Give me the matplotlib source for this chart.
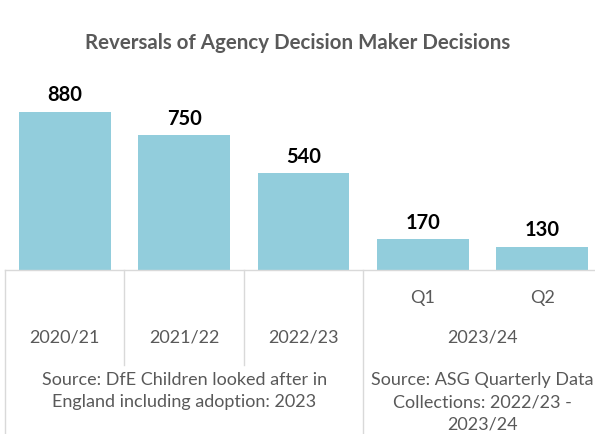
import matplotlib.pyplot as plt
import matplotlib.transforms as mtransforms

# data
categories = ["2020/21", "2021/22", "2022/23", "Q1", "Q2"]
values = [880, 750, 540, 170, 130]
quarter_year = "2023/24"
source_left = ["Source: DfE Children looked after in", "England including adoption: 2023"]
source_right = ["Source: ASG Quarterly Data", "Collections: 2022/23 -", "2023/24"]

plt.rcParams['font.family'] = ['Lato', 'DejaVu Sans']
gray = '#595959'
linec = '#d9d9d9'

fig = plt.figure(figsize=(5.95, 4.35), dpi=100)
W, H = 595, 435
ax = fig.add_axes([5 / W, 1 - 271 / H, 597 / W, 180 / H])

x = list(range(len(values)))
bars = ax.bar(x, values, width=0.77, color='#92cddc')
ax.set_xlim(-0.5, 4.5)
ax.set_ylim(0, 1000)
ax.axis('off')

for xi, v in zip(x, values):
    ax.text(xi, v + 40, str(v), ha='center', va='bottom',
            fontsize=14.5, fontweight='bold', color='black')

fig.text(0.5, 1 - 43 / H, "Reversals of Agency Decision Maker Decisions",
         ha='center', va='center', fontsize=14.8, fontweight='bold', color=gray)

tr = mtransforms.blended_transform_factory(ax.transData, fig.transFigure)
def fy(p):
    return 1 - p / H

# baseline and separators
ax.plot([-0.5, 4.6], [fy(271), fy(271)], transform=tr, color=linec, lw=1, clip_on=False)
for sx in [-0.5, 2.5]:
    ax.plot([sx, sx], [fy(271), 0], transform=tr, color=linec, lw=1, clip_on=False)
for sx in [0.5, 1.5]:
    ax.plot([sx, sx], [fy(271), fy(366)], transform=tr, color=linec, lw=1, clip_on=False)

fs = 13
# category labels
for xi, lab in zip(x, categories):
    yy = 298 if lab.startswith("Q") else 338
    ax.text(xi, fy(yy), lab, transform=tr, ha='center', va='center',
            fontsize=fs, color=gray)
ax.text(3.5, fy(338), quarter_year, transform=tr, ha='center', va='center',
        fontsize=fs, color=gray)
for i, line in enumerate(source_left):
    ax.text(1.0, fy(380 + 22.5 * i), line, transform=tr, ha='center', va='center',
            fontsize=fs, color=gray)
for i, line in enumerate(source_right):
    ax.text(3.5, fy(380 + 22.5 * i), line, transform=tr, ha='center', va='center',
            fontsize=fs, color=gray)

fig.savefig('out.png', dpi=100)
